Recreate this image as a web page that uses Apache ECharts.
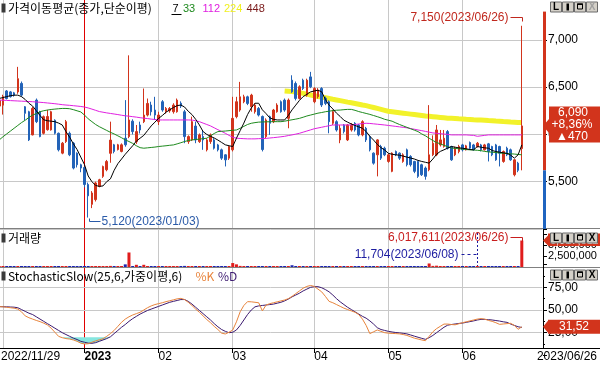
<!DOCTYPE html>
<html>
<head>
<meta charset="utf-8">
<script src="https://cdn.jsdelivr.net/npm/echarts@6/dist/echarts.min.js"></script>
<style>
html,body{margin:0;padding:0;background:#fff;overflow:hidden;}
#chart{width:600px;height:366px;}
</style>
</head>
<body>
<div id="chart"></div>
<script>
// ---------- DATA ----------
const tradingDays = [
  ['2022/11', [29,30]],
  ['2022/12', [1,2,5,6,7,8,9,12,13,14,15,16,19,20,21,22,23,26,27,28,29,30]],
  ['2023/01', [2,3,4,5,6,9,10,11,12,13,16,17,18,19,20,25,26,27,30,31]],
  ['2023/02', [1,2,3,6,7,8,9,10,13,14,15,16,17,20,21,22,23,24,27,28]],
  ['2023/03', [2,3,6,7,8,9,10,13,14,15,16,17,20,21,22,23,24,27,28,29,30,31]],
  ['2023/04', [3,4,5,6,7,10,11,12,13,14,17,18,19,20,21,24,25,26,27,28]],
  ['2023/05', [2,3,4,8,9,10,11,12,15,16,17,18,19,22,23,24,25,26,30,31]],
  ['2023/06', [1,2,5,7,8,9,12,13,14,15,16,19,20,21,22,23,26]]
];
const openP = [
6330,6300,6310,6460,6450,6440,6450,6540,6293,6240,
5995,6363,6240,6012,6050,6048,6150,6012,5802,5925,
6012,5907,5802,5679,5650,5470,5260,5310,5450,5556,
5626,5800,5890,5840,5820,5960,5977,6140,5924,6100,
6135,6205,6311,6258,6135,6346,6240,6250,6240,6240,
6330,6240,5924,5942,6089,5924,5977,5837,5924,5942,
5889,5837,5784,5749,5837,6188,6258,6346,6398,6293,
6240,6275,6190,5977,6188,6135,6240,6346,6363,6170,
6574,6539,6381,6574,6416,6609,6346,6400,6486,6381,
6346,6118,6135,5942,6100,5942,6047,6118,6100,5995,
6065,5977,5802,5784,5872,5854,5714,5609,5819,5802,
5714,5837,5767,5714,5714,5679,5644,5626,5784,5784,
5889,5872,6030,5872,5784,5819,5889,5837,5914,5889,
5872,5889,5837,5900,5872,5889,5872,5714,5854,5837,
5573,5696,5850];
const closeP = [
6300,6360,6400,6380,6400,6415,6590,6416,6223,5942,
6275,6135,5977,6188,6190,6240,6012,5837,5907,6135,
5784,5644,5679,5644,5470,5350,5380,5486,5520,5660,
5714,5940,5820,5890,5890,5890,6153,6030,6030,6047,
6205,6328,6240,6205,6205,6258,6275,6275,6311,6363,
6300,5977,5977,6135,5942,5995,5942,5942,5995,5854,
5837,5749,5731,5872,6170,6346,6398,6398,6328,6416,
6311,6205,5840,6153,6118,6258,6311,6240,6258,6363,
6451,6381,6504,6486,6574,6504,6486,6470,6311,6328,
6135,6240,6047,6065,6030,6100,6100,6047,5995,6135,
5942,5837,5696,5942,5749,5784,5784,5802,5784,5749,
5784,5679,5679,5609,5556,5573,5556,5784,5907,6047,
5942,5960,5854,5731,5854,5872,5837,5879,5854,5837,
5907,5837,5889,5819,5784,5731,5802,5819,5784,5731,
5731,5620,6090];
const lowP = [
6280,6280,6210,6370,6390,6400,6430,6400,6150,5930,
5990,6120,5970,6000,6040,6040,6000,5820,5790,5910,
5770,5630,5650,5600,5440,5120,5220,5290,5440,5540,
5610,5700,5800,5830,5810,5870,5960,6000,5900,6010,
6120,6190,6200,6153,6100,6240,6220,6230,6220,6230,
6280,5907,5900,5930,5907,5910,5837,5820,5900,5840,
5820,5730,5661,5730,5820,6170,6240,6330,6310,6240,
6220,6190,5820,5960,5995,6120,6230,6230,6240,6065,
6440,6360,6370,6470,6400,6490,6330,6380,6290,6310,
6012,6100,6030,5907,6010,5930,6030,6030,5980,5980,
5920,5820,5680,5556,5730,5770,5700,5600,5770,5730,
5700,5661,5660,5590,5540,5560,5521,5610,5770,5770,
5872,5860,5840,5720,5770,5800,5820,5830,5840,5830,
5860,5820,5830,5714,5770,5720,5661,5700,5770,5720,
5556,5600,5620];
const highP = [
6360,6380,6420,6470,6460,6450,6715,6560,6300,6250,
6290,6380,6250,6200,6260,6250,6160,6020,5920,6153,
6030,5920,5810,5690,5660,5490,5400,5500,5530,5670,
5730,6135,5900,5900,5905,6363,6837,6160,6100,6135,
6486,6380,6346,6398,6240,6363,6290,6290,6330,6380,
6350,6260,5990,6188,6135,6010,6047,5960,6010,5960,
5900,5850,5790,5880,6398,6398,6556,6420,6410,6430,
6330,6290,6200,6170,6200,6270,6330,6360,6380,6380,
6626,6560,6520,6590,6590,6662,6500,6490,6500,6400,
6360,6260,6150,6100,6110,6110,6120,6130,6110,6150,
6080,5990,5810,5950,5890,5870,5800,5810,5830,5810,
5800,5850,5780,5720,5720,5690,5660,6310,5990,6100,
6047,6047,6047,5880,5870,5890,5900,5890,5925,5900,
5920,5900,5900,5910,5880,5900,5880,5830,5870,5850,
5740,5710,7150];
const volume = [
60000,85000,120000,70000,45000,50000,180000,90000,70000,140000,
110000,90000,120000,80000,70000,65000,60000,90000,50000,110000,
100000,120000,80000,60000,150000,200000,130000,110000,60000,90000,
80000,250000,70000,60000,50000,600000,3300000,120000,500000,80000,
500000,200000,90000,110000,70000,80000,50000,40000,60000,110000,
50000,250000,60000,140000,90000,50000,80000,60000,50000,40000,
60000,70000,80000,90000,900000,600000,250000,100000,80000,120000,
70000,60000,230000,150000,90000,80000,60000,70000,50000,150000,
400000,160000,120000,100000,110000,130000,90000,70000,120000,60000,
140000,80000,60000,90000,50000,70000,40000,60000,70000,90000,
80000,110000,120000,150000,70000,50000,60000,90000,40000,50000,
60000,80000,70000,90000,110000,60000,70000,800000,250000,300000,
120000,90000,100000,80000,50000,40000,45000,30000,40000,35000,
11704,40000,35000,60000,50000,70000,60000,50000,40000,55000,
120000,90000,6017611];
const ma7 = [
6375,6381,6390,6400,6410,6415,6416,6400,6370,6330,
6300,6250,6200,6155,6145,6140,6135,6120,6100,6030,
5970,5900,5840,5760,5680,5560,5500,5460,5450,5455,
5500,5530,5620,5690,5740,5790,5835,5880,5930,5960,
5990,6040,6090,6130,6170,6200,6235,6260,6285,6305,
6311,6290,6245,6210,6160,6100,6030,6000,5980,5962,
5940,5915,5890,5880,5872,5960,6040,6120,6210,6280,
6330,6330,6260,6220,6175,6160,6153,6153,6153,6200,
6260,6310,6360,6400,6425,6450,6460,6468,6451,6370,
6310,6270,6225,6190,6150,6130,6110,6095,6080,6065,
6030,5980,5940,5895,5860,5835,5800,5790,5784,5780,
5770,5760,5750,5740,5725,5714,5705,5696,5740,5790,
5820,5837,5855,5872,5865,5858,5854,5848,5840,5837,
5872,5865,5858,5854,5830,5819,5812,5805,5800,5780,
5749,5784,5889];
const ma33 = [
5920,5942,5975,6005,6035,6065,6095,6125,6150,6180,
6205,6220,6240,6251,6258,6264,6268,6272,6275,6275,
6272,6262,6250,6238,6205,6165,6135,6105,6082,6062,
6042,6022,6005,5985,5965,5942,5925,5905,5880,5860,
5854,5858,5862,5866,5872,5876,5880,5885,5889,5900,
5912,5925,5935,5942,5946,5950,5955,5960,5985,6010,
6030,6033,6036,6040,6044,6047,6065,6085,6105,6118,
6125,6130,6132,6133,6134,6135,6135,6135,6140,6148,
6155,6162,6170,6182,6195,6205,6215,6225,6232,6240,
6246,6252,6256,6258,6262,6265,6265,6255,6242,6232,
6222,6212,6200,6188,6175,6160,6150,6140,6122,6105,
6090,6075,6060,6045,6030,6005,5985,5960,5935,5915,
5900,5885,5870,5856,5852,5848,5845,5840,5837,5835,
5832,5828,5820,5815,5812,5808,5804,5800,5798,5795,
5792,5788,5784];
const ma112 = [
6365,6363,6362,6360,6358,6356,6354,6352,6350,6348,
6346,6343,6340,6337,6333,6329,6325,6320,6315,6311,
6308,6304,6300,6296,6290,6280,6268,6255,6242,6235,
6228,6222,6216,6210,6203,6197,6193,6188,6183,6177,
6172,6168,6162,6158,6153,6153,6153,6153,6153,6153,
6153,6153,6153,6152,6145,6135,6120,6105,6090,6070,
6050,6032,6012,5990,5970,5960,5957,5955,5953,5953,
5953,5955,5956,5958,5962,5966,5970,5975,5980,5988,
5995,6003,6012,6024,6036,6048,6060,6068,6076,6084,
6092,6100,6100,6100,6100,6100,6100,6105,6110,6115,
6118,6116,6112,6108,6104,6100,6095,6090,6085,6080,
6075,6070,6062,6055,6047,6040,6032,6024,6016,6012,
6008,6004,6000,5995,5995,5995,5995,5995,5992,5990,
5980,5985,5990,5995,5995,5995,5995,5995,5995,5995,
5995,5995,5995];
const ma224 = [
null,null,null,null,null,null,null,null,null,null,
null,null,null,null,null,null,null,null,null,null,
null,null,null,null,null,null,null,null,null,null,
null,null,null,null,null,null,null,null,null,null,
null,null,null,null,null,null,null,null,null,null,
null,null,null,null,null,null,null,null,null,null,
null,null,null,null,null,null,null,null,null,null,
null,null,null,null,null,null,null,null,6460,6457,
6453,6448,6442,6434,6426,6418,6410,6402,6395,6388,
6380,6372,6365,6358,6350,6342,6335,6328,6320,6312,
6305,6295,6285,6275,6265,6255,6245,6240,6235,6230,
6225,6220,6215,6210,6205,6200,6195,6192,6188,6184,
6180,6176,6172,6170,6168,6165,6163,6160,6158,6155,
6153,6152,6150,6147,6145,6142,6140,6137,6135,6132,
6130,6127,6125];
const stochK = [
53.7,53.7,53.5,53,52.5,52,51,48,43.5,41.5,
40,38.5,37.2,35.5,33.5,30,25.5,21,19.5,18.5,
18,17,15.5,13.5,12.6,12.8,14.5,16,17.2,18.4,
21,24,27.5,32,36.5,40,42.5,44.5,46,47.5,
50,52.5,54.5,56,57,58,59.2,60.2,61.2,62.3,
62.8,61.5,58.5,55,51,47.5,43.5,39.5,36,32,
28.5,24.5,23.6,25.5,28,37,48,55,59.2,59,
58.5,58,49,55.5,57,58,59,60,61,62.5,
65,68,71,74,76,77,76,73,70,65,
59.5,58,56,54,52,50.5,49,47.5,45,40,
33,24,26,28,26.5,25,24.5,24.2,24,23.7,
23,22,20.5,19,18,17,16.2,21,26,29.5,
32,34.5,34.5,34,33.7,34.8,36,37,38,39,
40,40.5,40,38.5,37.5,36,34.2,34.6,35,35.3,
33,28.7,31.52];
const stochD = [
53.7,53.7,53.6,53.5,53.3,53.1,52.5,50.5,48.5,46.5,
45,42.5,40,37.5,35,32.5,30,27.5,25,23,
21,19,17.5,15.5,14.5,13.5,13.3,14,15.5,17,
18.5,20.5,24,27.5,31,34,37.5,40.5,43,45.5,
47.5,49.5,51,52.5,54,55.5,57,58.5,59.5,60.5,
61.5,61.5,59.5,56.5,53,49.5,46,42.5,39,35,
31.5,28.5,26.5,25,25.5,28,33,39,45,50,
53.5,54.5,55,55.5,56,56.5,57.5,58.5,60,62,
64.5,66.5,68.5,71,73,75,75.7,75.7,74.5,72.5,
70,66.5,62.5,59,56,53,50.5,48,45.5,43,
41,38,34.5,30.5,28.5,27.5,26.5,25.8,25.2,24.8,
24.3,23.7,22.5,21.2,20,18.8,17.7,19.5,22,25,
28,31,33.3,34,34.6,35.2,35.6,36.4,37.2,38,
39,39.7,39.6,39.4,39,38.4,37.8,37,36.4,34.5,
33,31.5,30.8];
const oversoldStart = 18;
const oversoldValues = [20,18.5,18,17,15.5,13.5,12.6,12.8,13.3,14,15.5,17,18.5,20];
const prevClose = 5620;
const upperLimit = 7300;
const changeText = ['+8,36%', '\u25B2470'];
const maPeriods = ['7','33','112','224','448'];

// ---------- BUILD ----------
const dates = [];
tradingDays.forEach(([ym, days]) => days.forEach(d => dates.push(ym + '/' + String(d).padStart(2, '0'))));
const N = dates.length;
const cats = dates.concat(['', ' ', '  ', '   ', '    ']);
const CW = 3.706, GL = -6.3, GW = cats.length * CW;

const monthStarts = [];
for (let i = 1; i < N; i++) if (dates[i].slice(0, 7) !== dates[i - 1].slice(0, 7)) monthStarts.push(i);
const yearStart = monthStarts.find(i => dates[i].slice(0, 4) !== dates[i - 1].slice(0, 4));
const grayStarts = monthStarts.filter(i => i !== yearStart);
const labelStarts = monthStarts.filter(i => i >= yearStart);

const FN = 'Liberation Sans', FK = 'Noto Sans CJK KR';
const UP = '#d2341c', DN = '#2363b8', VUP = '#e01c1c', VDN = '#1c24b0', GC = '#c8c8c8', YR = '#e00000';
const fmt = v => v.toLocaleString('en-US');

const candle = dates.map((d, i) => [openP[i], closeP[i], lowP[i], highP[i]]);
const oversold = dates.map((d, i) => {
  const k = i - oversoldStart;
  return (k >= 0 && k < oversoldValues.length) ? oversoldValues[k] : null;
});

const vLineStyle = i => ({ color: i === yearStart ? YR : GC, width: 1, type: 'solid' });
const mkBase = { symbol: ['none', 'none'], silent: true, z: 1, animation: false, label: { show: false }, lineStyle: { type: 'solid', width: 1 } };
const vLinesFull = grayStarts.concat([yearStart]).map(i => ({ xAxis: i, lineStyle: vLineStyle(i) }));
const vLinesStoch = grayStarts.concat([yearStart]).map(i => [{ coord: [i, 7.6], lineStyle: vLineStyle(i) }, { coord: [i, 97] }]);
const hLinesStoch = [25, 50, 75].map(v => ({ yAxis: v, lineStyle: { color: GC, width: 1, type: 'solid' } }));

const hiddenX = gi => ({ type: 'category', gridIndex: gi, data: cats, boundaryGap: true, show: false });
const VMAX = 38 / 4.4 * 1e6;
const gridBase = { outerBoundsMode: 'none', containLabel: false, left: GL, width: GW };

const option = {
  animation: false,
  backgroundColor: '#fff',
  grid: [
    Object.assign({ top: -7.3, height: 236.2 }, gridBase),
    Object.assign({ top: 229, height: 38 }, gridBase),
    Object.assign({ top: 264.6, height: 90.8 }, gridBase)
  ],
  xAxis: [
    hiddenX(0), hiddenX(1),
    {
      type: 'category', gridIndex: 2, data: cats, boundaryGap: true, offset: -6.4,
      axisLine: { show: false },
      axisTick: { show: true, alignWithLabel: true, length: 4, interval: i => labelStarts.includes(i), lineStyle: { color: '#000' } },
      axisLabel: {
        show: true, interval: i => labelStarts.includes(i), align: 'left', margin: 2,
        fontFamily: FN, fontSize: 12, color: '#000',
        formatter: (v, i) => i === yearStart ? '{b|' + v.slice(0, 4) + '}' : v.slice(5, 7),
        rich: { b: { fontWeight: 'bold', fontFamily: FN, fontSize: 12, color: '#000' } }
      },
      splitLine: { show: false }
    }
  ],
  yAxis: [
    {
      gridIndex: 0, position: 'right', offset: 0.8, min: 5000, max: 7500, interval: 500,
      axisLine: { show: false },
      axisTick: { show: true, length: 4, lineStyle: { color: '#000' } },
      minorTick: { show: true, splitNumber: 2, length: 2, lineStyle: { color: '#000' } },
      axisLabel: { margin: 5, fontFamily: FN, fontSize: 12, color: '#000', formatter: v => (v > 5000 && v < 7500) ? fmt(v) : '' },
      splitLine: { show: true, lineStyle: { color: GC } }
    },
    {
      gridIndex: 1, position: 'right', offset: 0.8, min: 0, max: VMAX, interval: 2500000,
      axisLine: { show: false },
      axisTick: { show: true, length: 4, lineStyle: { color: '#000' } },
      axisLabel: { margin: 5, fontFamily: FN, fontSize: 11, color: '#000', formatter: v => (v === 2500000 || v === 5000000) ? fmt(v) : '' },
      splitLine: { show: false }
    },
    {
      gridIndex: 2, position: 'right', offset: 0.8, min: 0, max: 100, interval: 25,
      axisLine: { show: false },
      axisTick: { show: true, length: 4, lineStyle: { color: '#000' } },
      minorTick: { show: true, splitNumber: 2, length: 2, lineStyle: { color: '#000' } },
      axisLabel: { margin: 5, fontFamily: FN, fontSize: 12, color: '#000', formatter: v => (v === 25 || v === 50 || v === 75) ? v.toFixed(2).replace('.', ',') : '' },
      splitLine: { show: false }
    }
  ],
  series: [
    {
      name: 'MA224', type: 'line', xAxisIndex: 0, yAxisIndex: 0, data: ma224, z: 1,
      showSymbol: false, symbol: 'none', lineStyle: { color: '#f2f22a', width: 5 }, silent: true
    },
    {
      name: 'price', type: 'candlestick', xAxisIndex: 0, yAxisIndex: 0, data: candle, z: 2, barWidth: 2, clip: false,
      itemStyle: { color: UP, color0: DN, borderColor: UP, borderColor0: DN, borderWidth: 1 },
      markLine: Object.assign({}, mkBase, { data: vLinesFull })
    },
    { name: 'MA112', type: 'line', xAxisIndex: 0, yAxisIndex: 0, data: ma112, z: 3, showSymbol: false, symbol: 'none', lineStyle: { color: '#e020e0', width: 1 }, silent: true },
    { name: 'MA33', type: 'line', xAxisIndex: 0, yAxisIndex: 0, data: ma33, z: 3, showSymbol: false, symbol: 'none', lineStyle: { color: '#1e8a1e', width: 1 }, silent: true },
    { name: 'MA7', type: 'line', xAxisIndex: 0, yAxisIndex: 0, data: ma7, z: 4, showSymbol: false, symbol: 'none', lineStyle: { color: '#000', width: 1 }, silent: true },
    {
      name: 'volume', type: 'bar', xAxisIndex: 1, yAxisIndex: 1, data: volume, barWidth: 3, barMinHeight: 1, z: 2,
      itemStyle: { color: p => closeP[p.dataIndex] >= openP[p.dataIndex] ? VUP : VDN },
      markLine: Object.assign({}, mkBase, { data: vLinesFull })
    },
    {
      name: 'oversold', type: 'line', xAxisIndex: 2, yAxisIndex: 2, data: oversold, z: 2,
      showSymbol: false, symbol: 'none', lineStyle: { width: 0, opacity: 0 },
      areaStyle: { origin: 20, color: '#86e6df', opacity: 1 }, silent: true,
      markLine: Object.assign({}, mkBase, { data: vLinesStoch.concat(hLinesStoch) })
    },
    { name: '%D', type: 'line', xAxisIndex: 2, yAxisIndex: 2, data: stochD, z: 3, showSymbol: false, symbol: 'none', lineStyle: { color: '#3c1a70', width: 1 }, silent: true },
    { name: '%K', type: 'line', xAxisIndex: 2, yAxisIndex: 2, data: stochK, z: 4, showSymbol: false, symbol: 'none', lineStyle: { color: '#e8843c', width: 1 }, silent: true }
  ]
};

const chart = echarts.init(document.getElementById('chart'), null, { renderer: 'canvas', width: 600, height: 366 });
chart.setOption(option);

// ---------- DECORATION (positions from the library's scales) ----------
const P = (gi, x, y) => chart.convertToPixel({ gridIndex: gi }, [x, y]);
const els = [];
const T = (x, y, text, o) => els.push({
  type: 'text', x, y, z: 60, silent: true,
  style: Object.assign({ text, fill: '#000', font: '12px "' + FK + '"', align: 'left', verticalAlign: 'middle', textAlign: 'left', textVerticalAlign: 'middle' }, o || {})
});
const L = (x1, y1, x2, y2, stroke, o, z) => els.push({ type: 'line', z: z || 55, silent: true, shape: { x1, y1, x2, y2 }, style: Object.assign({ stroke, lineWidth: 1 }, o || {}) });
const R = (x, y, w, h, fill, stroke, z) => els.push({ type: 'rect', z: z || 55, silent: true, shape: { x, y, width: w, height: h }, style: { fill, stroke: stroke || null, lineWidth: 1 } });
const PG = (pts, fill, z) => els.push({ type: 'polygon', z: z || 58, silent: true, shape: { points: pts }, style: { fill } });
const numFont = (s, w) => (w || 'normal') + ' ' + s + 'px "' + FN + '"';

// panel separators and axes
L(0, 228.5, 600, 228.5, '#808080');
L(0, 267.5, 600, 267.5, '#808080');
L(0, 348.5, 600, 348.5, '#000');
L(543.5, 228.5, 543.5, 348.5, '#000');

// titles
R(1.5, 3.5, 4, 9, '#3a3a3a', null, 60);
T(8, 8.5, '가격이동평균(종가,단순이평)');
const maCols = ['#000', '#1e8a1e', '#e020e0', '#f0f020', '#7a1a1a'];
const maX = [172.5, 183, 202.5, 224, 246.5];
maPeriods.forEach((p, k) => T(maX[k], 8.5, p, { fill: maCols[k], font: numFont(11) }));
L(171.5, 14.5, 181.5, 14.5, '#000', null, 60);
R(1.5, 233.5, 4, 9, '#3a3a3a', null, 60);
T(8, 238.5, '거래량');
R(1.5, 271.5, 4, 9, '#3a3a3a', null, 60);
T(8, 276.5, 'StochasticSlow(25,6,가중이평,6)');
T(195.5, 276.5, '%K', { fill: '#e8843c' });
T(218, 276.5, '%D', { fill: '#3c1a70' });

// price limit bar on the right axis
const yUp = P(0, 0, upperLimit)[1], yPrev = P(0, 0, prevClose)[1], yBot = P(0, 0, 5000)[1];
R(543, yUp, 3, yPrev - yUp, '#d2341c', null, 56);
R(543, yPrev, 3, yBot - yPrev, '#1f64c0', null, 56);

// high / low annotations
const hiIdx = highP.indexOf(Math.max(...highP));
const loIdx = lowP.indexOf(Math.min(...lowP));
const hp = P(0, hiIdx, highP[hiIdx]);
const hy = Math.round(hp[1] - 8.6) + 0.5, hx = Math.round(hp[0]) + 0.5;
T(hx - 14, hy, fmt(highP[hiIdx]) + '(' + dates[hiIdx] + ')', { fill: '#c0281e', font: numFont(12), align: 'right', textAlign: 'right' });
L(hx - 12, hy, hx, hy, '#c0281e'); L(hx, hy, hx, hy + 4, '#c0281e');
const lp = P(0, loIdx, lowP[loIdx]);
const ly = Math.round(lp[1] + 3.5) + 0.5, lx = Math.round(lp[0]) + 1.5;
T(lx + 12, ly, fmt(lowP[loIdx]) + '(' + dates[loIdx] + ')', { fill: '#2a5aa8', font: numFont(12) });
L(lx, ly, lx + 11, ly, '#2a5aa8'); L(lx, ly, lx, ly - 3, '#2a5aa8');

// volume annotations
const vmaxIdx = volume.indexOf(Math.max(...volume));
const vminIdx = volume.indexOf(Math.min(...volume));
const vp = P(1, vmaxIdx, volume[vmaxIdx]);
const vy = Math.round(vp[1] - 4) + 0.5, vx = Math.round(vp[0]) + 0.5;
T(vx - 14, vy, fmt(volume[vmaxIdx]) + '(' + dates[vmaxIdx] + ')', { fill: '#c81e1e', font: numFont(12), align: 'right', textAlign: 'right' });
L(vx - 12, vy, vx, vy, '#c81e1e'); L(vx, vy, vx, vy + 4, '#c81e1e');
const mp = P(1, vminIdx, volume[vminIdx]);
const mx = Math.round(mp[0]) + 0.5, my = 254.5;
T(mx - 19, my, fmt(volume[vminIdx]) + '(' + dates[vminIdx] + ')', { fill: '#1c1ca0', font: numFont(12), align: 'right', textAlign: 'right' });
L(mx - 16, my, mx, my, '#1c1ca0', { lineDash: [3, 3] });
L(mx, 233, mx, 266, '#1c1ca0', { lineDash: [2, 2] });

// current price tag
const lastIdx = N - 1;
const py = P(0, lastIdx, closeP[lastIdx])[1];
PG([[543, py], [549, py - 7], [549, py - 19.5], [600, py - 19.5], [600, py + 16.5], [549, py + 16.5], [549, py + 7]], '#d2341c');
T(573, py - 13, fmt(closeP[lastIdx]), { fill: '#fff', font: numFont(12), align: 'center', textAlign: 'center' });
T(572, py - 1, changeText[0], { fill: '#fff', font: numFont(12), align: 'center', textAlign: 'center' });
T(572, py + 10.5, changeText[1], { fill: '#fff', font: numFont(12), align: 'center', textAlign: 'center' });

// volume tag
const vty = P(1, lastIdx, volume[lastIdx])[1];
PG([[543, vty], [548, vty - 5], [548, vty - 7], [600, vty - 7], [600, vty + 5.5], [548, vty + 5.5], [548, vty + 5]], '#d2341c');
T(574, vty, fmt(volume[lastIdx]), { fill: '#fff', font: numFont(11), align: 'center', textAlign: 'center' });

// stochastic tag
const sty = P(2, lastIdx, stochK[lastIdx])[1];
PG([[543, sty], [548, sty - 6], [548, sty - 7], [600, sty - 7], [600, sty + 7], [548, sty + 7], [548, sty + 6]], '#d2341c');
T(574, sty, stochK[lastIdx].toFixed(2).replace('.', ','), { fill: '#fff', font: numFont(12), align: 'center', textAlign: 'center' });

// window buttons
function buttons(y, grayX) {
  for (let k = 0; k < 4; k++) {
    const x = 550 + 12 * k;
    R(x + 0.5, y + 0.5, 11, 10, '#d4d0c8', '#6a6a6a', 70);
    const c = (k === 3 && grayX) ? '#a0a0a0' : '#000';
    if (k === 0) { T(x + 6, y + 6, 'L', { fill: c, font: numFont(10, 'bold'), align: 'center', textAlign: 'center' }); els[els.length - 1].z = 72; }
    if (k === 1) R(x + 4.5, y + 2, 2.5, 7, '#000', null, 72);
    if (k === 2) { R(x + 3.5, y + 2.5, 5, 5, null, '#000', 72); R(x + 3, y + 2, 6, 1.5, '#000', null, 72); }
    if (k === 3) { T(x + 6, y + 6, 'X', { fill: c, font: numFont(10, 'bold'), align: 'center', textAlign: 'center' }); els[els.length - 1].z = 72; }
  }
}
buttons(1.5, true);
buttons(232.5, false);
buttons(269.5, false);

// end date labels
T(1, 357, dates[0], { font: numFont(12) });
T(597, 357, dates[N - 1], { font: numFont(12), align: 'right', textAlign: 'right' });

chart.setOption({ graphic: { elements: els } });
</script>
</body>
</html>
